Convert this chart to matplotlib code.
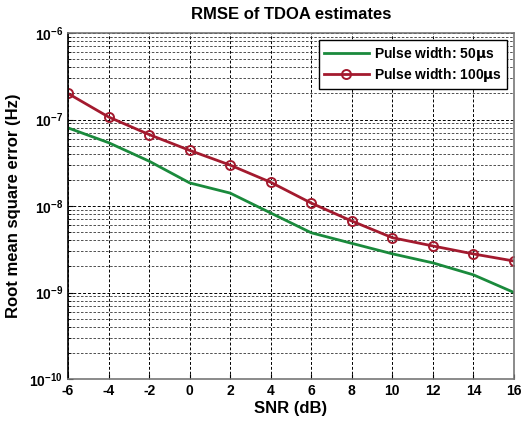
import numpy as np
import matplotlib.pyplot as plt
from matplotlib.ticker import LogLocator, FixedLocator, NullFormatter

plt.rcParams['font.family'] = ['Liberation Sans', 'DejaVu Sans']
plt.rcParams['font.weight'] = 'bold'
plt.rcParams['axes.unicode_minus'] = False
plt.rcParams['mathtext.default'] = 'bf'

snr = [-6, -4, -2, 0, 2, 4, 6, 8, 10, 12, 14, 16]
rmse_50 = [8.0e-8, 5.4e-8, 3.3e-8, 1.85e-8, 1.41e-8, 8.3e-9, 4.9e-9, 3.7e-9, 2.8e-9, 2.2e-9, 1.6e-9, 1.0e-9]
rmse_100 = [2.0e-7, 1.07e-7, 6.7e-8, 4.4e-8, 2.97e-8, 1.88e-8, 1.08e-8, 6.7e-9, 4.3e-9, 3.45e-9, 2.79e-9, 2.31e-9]
labels = ['Pulse width: 50$\\mathbf{\\mu}$s', 'Pulse width: 100$\\mathbf{\\mu}$s']

fig = plt.figure(figsize=(5.22, 4.21), dpi=100)
ax = fig.add_axes([68/522, 42/421, 446/522, 346/421])

ax.plot(snr, rmse_50, color='#1a8a3c', lw=2, label=labels[0])
ax.plot(snr, rmse_100, color='#a31a2e', lw=2, marker='o', ms=6.5,
        mfc='none', mec='#a31a2e', mew=1.4, label=labels[1])

ax.set_yscale('log')
ax.set_xlim(-6, 16)
ax.set_ylim(1e-10, 1e-6)
ax.xaxis.set_major_locator(FixedLocator(snr))
ax.yaxis.set_major_locator(LogLocator(base=10, numticks=10))
ax.yaxis.set_minor_locator(LogLocator(base=10, subs=np.arange(2, 10), numticks=20))
ax.yaxis.set_minor_formatter(NullFormatter())
ax.grid(True, which='major', ls=(0, (3, 2)), color='k', lw=0.7)
ax.grid(True, which='minor', ls=(0, (3, 2)), color='#333333', lw=0.6)
ax.tick_params(which='both', direction='in', labelsize=10)
ax.tick_params(which='minor', length=2)

for s in ['top', 'right', 'bottom']:
    ax.spines[s].set_color('#777777')
ax.spines['left'].set_color('k')
for s in ax.spines.values():
    s.set_linewidth(1.2)

ax.set_title('RMSE of TDOA estimates', fontsize=12, fontweight='bold', pad=10)
ax.set_xlabel('SNR (dB)', fontsize=12, fontweight='bold', labelpad=2)
ax.set_ylabel('Root mean square error (Hz)', fontsize=12, fontweight='bold', labelpad=6)

leg = ax.legend(loc='upper right', fontsize=10, fancybox=False, framealpha=1,
                edgecolor='k', handlelength=3.2, borderaxespad=0.5, borderpad=0.35,
                labelspacing=0.25, handletextpad=0.4)
leg.get_frame().set_linewidth(1.0)

fig.savefig('out.png', dpi=100)
